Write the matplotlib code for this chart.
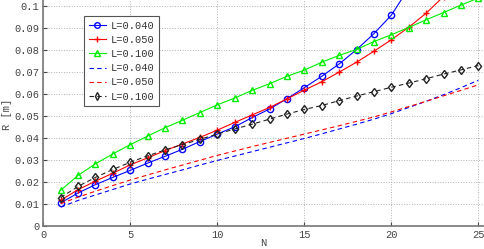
import numpy as np
import matplotlib
matplotlib.use("Agg")
import matplotlib.pyplot as plt

plt.rcParams['font.family'] = ['Liberation Mono', 'DejaVu Sans Mono']

N = list(range(1, 26))

# solid lines (markers)
r_040 = [0.0104, 0.0149, 0.0187, 0.0220, 0.0252, 0.0285, 0.0316, 0.0348, 0.0383, 0.0417,
         0.0450, 0.0492, 0.0531, 0.0578, 0.0628, 0.0680, 0.0736, 0.0801, 0.0874, 0.0958,
         0.1080]
r_050 = [0.0116, 0.0164, 0.0203, 0.0239, 0.0277, 0.0309, 0.0342, 0.0372, 0.0402, 0.0435,
         0.0470, 0.0504, 0.0538, 0.0577, 0.0617, 0.0655, 0.0699, 0.0744, 0.0794, 0.0846,
         0.0903, 0.0967, 0.1043]
r_100 = [0.0161, 0.0229, 0.0282, 0.0327, 0.0369, 0.0408, 0.0446, 0.0480, 0.0515, 0.0550,
         0.0581, 0.0616, 0.0646, 0.0680, 0.0708, 0.0744, 0.0775, 0.0802, 0.0838, 0.0869,
         0.0902, 0.0937, 0.0970, 0.1004, 0.1036]

# dashed lines
d_040 = [0.0085, 0.0115, 0.0140, 0.0165, 0.0190, 0.0212, 0.0233, 0.0254, 0.0276, 0.0297,
         0.0317, 0.0337, 0.0357, 0.0377, 0.0397, 0.0418, 0.0440, 0.0462, 0.0485, 0.0510,
         0.0538, 0.0566, 0.0596, 0.0628, 0.0662]
d_050 = [0.0100, 0.0130, 0.0157, 0.0183, 0.0208, 0.0231, 0.0254, 0.0276, 0.0298, 0.0320,
         0.0340, 0.0360, 0.0379, 0.0398, 0.0417, 0.0436, 0.0455, 0.0475, 0.0495, 0.0518,
         0.0542, 0.0566, 0.0591, 0.0616, 0.0641]
d_100 = [0.0128, 0.0179, 0.0220, 0.0256, 0.0289, 0.0318, 0.0345, 0.0369, 0.0393, 0.0417,
         0.0440, 0.0462, 0.0485, 0.0508, 0.0529, 0.0547, 0.0569, 0.0590, 0.0610, 0.0630,
         0.0649, 0.0669, 0.0690, 0.0709, 0.0729]

labels = ["L=0.040", "L=0.050", "L=0.100", "L=0.040", "L=0.050", "L=0.100"]
xticks = [0, 5, 10, 15, 20, 25]
yticks = [0, 0.01, 0.02, 0.03, 0.04, 0.05, 0.06, 0.07, 0.08, 0.09, 0.1]
ytick_labels = ["0", "0.01", "0.02", "0.03", "0.04", "0.05", "0.06", "0.07", "0.08", "0.09", "0.1"]

fig = plt.figure(figsize=(4.85, 2.49), dpi=100)
ax = fig.add_axes([43.3 / 485, 23.3 / 249, 452.4 / 485, 230.7 / 249])

lw = 0.8
ms = 4.5
ax.plot(N[:len(r_040)], r_040, color='#0000ff', lw=lw, marker='o', ms=ms, mfc='none', label=labels[0])
ax.plot(N[:len(r_050)], r_050, color='#ff0000', lw=lw, marker='+', ms=ms, label=labels[1])
ax.plot(N[:len(r_100)], r_100, color='#00ee00', lw=lw, marker='^', ms=ms, mfc='none', label=labels[2])
ax.plot(N, d_040, color='#0000ff', lw=lw, ls=(0, (4, 3)), label=labels[3])
ax.plot(N, d_050, color='#ff0000', lw=lw, ls=(0, (4, 3)), label=labels[4])
ax.plot(N, d_100, color='#222222', lw=lw, ls=(0, (4, 3)), marker='d', ms=ms, mfc='none', label=labels[5])

ax.set_xlim(0, 26)
ax.set_ylim(0, 0.105)
ax.set_xticks(xticks)
ax.set_yticks(yticks)
ax.set_yticklabels(ytick_labels)
ax.grid(True, ls=':', color='#b0b0b0', lw=0.7)
ax.tick_params(direction='in', length=3, labelsize=7.5, colors='#444444', pad=3)
for s in ['left', 'bottom']:
    ax.spines[s].set_color('#777777')
    ax.spines[s].set_linewidth(1.2)
for s in ['top', 'right']:
    ax.spines[s].set_visible(False)

ax.set_xlabel("N", fontsize=7.5, color='#444444')
ax.set_ylabel("R [m]", fontsize=7.5, color='#444444')
ax.xaxis.set_label_coords(0.486, -0.053)
ax.yaxis.set_label_coords(-0.069, 0.484)

leg = ax.legend(loc='upper left', bbox_to_anchor=(0.0906, 0.909), borderaxespad=0,
                fontsize=7.5, fancybox=False, framealpha=1, edgecolor='#555555',
                handlelength=1.6, handletextpad=0.5, labelspacing=0.4, borderpad=0.45,
                markerscale=0.9)
leg.get_frame().set_linewidth(0.8)
for t in leg.get_texts():
    t.set_color('#333333')

fig.savefig("out.png", dpi=100)
